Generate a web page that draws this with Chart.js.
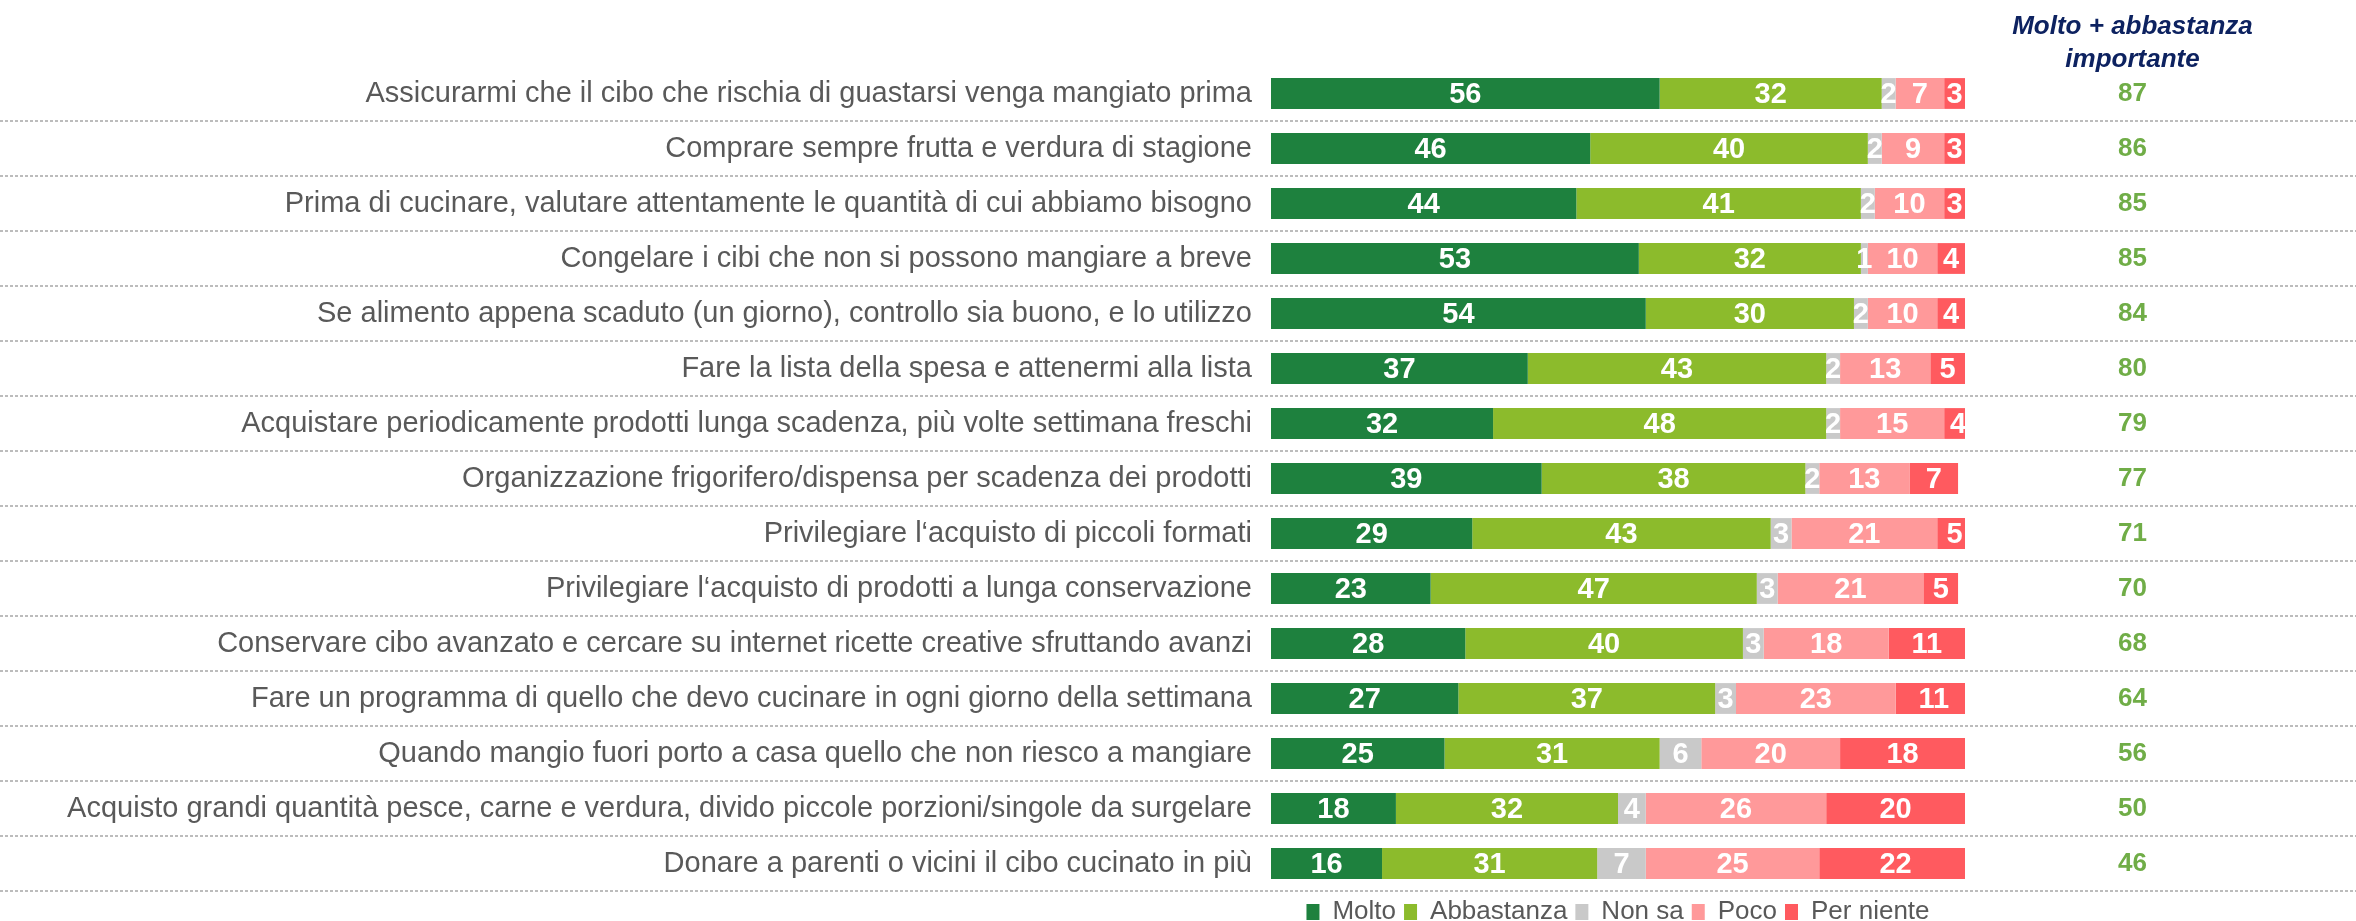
<!DOCTYPE html>
<html>
<head>
<meta charset="utf-8">
<script src="https://cdn.jsdelivr.net/npm/chart.js@4.4.1/dist/chart.umd.min.js"></script>
<style>
html, body { margin: 0; padding: 0; background: #fff; }
#wrap { width: 2356px; height: 921px; position: relative; }
</style>
</head>
<body>
<div id="wrap"><canvas id="foodChart"></canvas></div>
<script>
var categories = [
    "Assicurarmi che il cibo che rischia di guastarsi venga mangiato prima",
    "Comprare sempre frutta e verdura di stagione",
    "Prima di cucinare, valutare attentamente le quantità di cui abbiamo bisogno",
    "Congelare i cibi che non si possono mangiare a breve",
    "Se alimento appena scaduto (un giorno), controllo sia buono, e lo utilizzo",
    "Fare la lista della spesa e attenermi alla lista",
    "Acquistare periodicamente prodotti lunga scadenza, più volte settimana freschi",
    "Organizzazione frigorifero/dispensa per scadenza dei prodotti",
    "Privilegiare l‘acquisto di piccoli formati",
    "Privilegiare l‘acquisto di prodotti a lunga conservazione",
    "Conservare cibo avanzato e cercare su internet ricette creative sfruttando avanzi",
    "Fare un programma di quello che devo cucinare in ogni giorno della settimana",
    "Quando mangio fuori porto a casa quello che non riesco a mangiare",
    "Acquisto grandi quantità pesce, carne e verdura, divido piccole porzioni/singole da surgelare",
    "Donare a parenti o vicini il cibo cucinato in più"
];
var seriesNames = ["Molto", "Abbastanza", "Non sa", "Poco", "Per niente"];
var molto      = [56, 46, 44, 53, 54, 37, 32, 39, 29, 23, 28, 27, 25, 18, 16];
var abbastanza = [32, 40, 41, 32, 30, 43, 48, 38, 43, 47, 40, 37, 31, 32, 31];
var nonSa      = [2, 2, 2, 1, 2, 2, 2, 2, 3, 3, 3, 3, 6, 4, 7];
var poco       = [7, 9, 10, 10, 10, 13, 15, 13, 21, 21, 18, 23, 20, 26, 25];
var perNiente  = [3, 3, 3, 4, 4, 5, 4, 7, 5, 5, 11, 11, 18, 20, 22];
var totals     = [87, 86, 85, 85, 84, 80, 79, 77, 71, 70, 68, 64, 56, 50, 46];
var headerLines = ["Molto + abbastanza", "importante"];

var colors = ["#1e813e", "#8cbb2c", "#c9c9c9", "#ff999a", "#ff5a5f"];
var FONT = "'Liberation Sans', Arial, sans-serif";

// dotted row separators, full page width, placed between the rows of the y scale
var separatorPlugin = {
    id: 'separators',
    beforeDatasetsDraw: function (chart) {
        var y = chart.scales.y;
        var ctx = chart.ctx;
        var step = y.getPixelForValue(1) - y.getPixelForValue(0);
        ctx.save();
        ctx.strokeStyle = "#bcbcbc";
        ctx.lineWidth = 2;
        ctx.setLineDash([3, 2]);
        for (let i = 0; i < categories.length; i++) {
            let py = Math.round(y.getPixelForValue(i) + step / 2);
            ctx.beginPath();
            ctx.moveTo(0, py);
            ctx.lineTo(chart.width, py);
            ctx.stroke();
        }
        ctx.restore();
    }
};

var valueLabelPlugin = {
    id: 'valueLabels',
    afterDatasetsDraw: function (chart) {
        var ctx = chart.ctx;
        ctx.save();
        ctx.fillStyle = "#ffffff";
        ctx.font = "bold 29px " + FONT;
        ctx.textAlign = "center";
        ctx.textBaseline = "middle";
        chart.data.datasets.forEach(function (ds, i) {
            chart.getDatasetMeta(i).data.forEach(function (bar, j) {
                ctx.fillText(String(ds.data[j]), (bar.x + bar.base) / 2, bar.y + 1);
            });
        });
        ctx.restore();
    }
};

var headerPlugin = {
    id: 'header',
    afterDraw: function (chart) {
        var y2 = chart.scales.y2;
        var ctx = chart.ctx;
        ctx.save();
        ctx.font = "bold 26px " + FONT;
        var widest = Math.max.apply(null, totals.map(t => ctx.measureText(String(t)).width));
        var cx = y2.left + y2.options.grid.tickLength + y2.options.ticks.padding + widest / 2;
        ctx.font = "italic bold 26px " + FONT;
        ctx.fillStyle = "#0d2260";
        ctx.textAlign = "center";
        ctx.textBaseline = "alphabetic";
        var top = chart.chartArea.top;
        ctx.fillText(headerLines[0], cx, top - 32);
        ctx.fillText(headerLines[1], cx, top + 1);
        ctx.restore();
    }
};

var datasets = [molto, abbastanza, nonSa, poco, perNiente].map(function (values, i) {
    return {
        label: seriesNames[i],
        data: values,
        backgroundColor: colors[i],
        borderWidth: 0,
        categoryPercentage: 1,
        barPercentage: 0.56
    };
});

new Chart(document.getElementById("foodChart"), {
    type: 'bar',
    data: { labels: categories, datasets: datasets },
    plugins: [separatorPlugin, valueLabelPlugin, headerPlugin],
    options: {
        indexAxis: 'y',
        responsive: true,
        maintainAspectRatio: false,
        animation: false,
        layout: { padding: { top: 66, left: 0, right: 0, bottom: 0 } },
        scales: {
            x: {
                stacked: true,
                min: 0,
                max: 100,
                display: false
            },
            y: {
                stacked: true,
                grid: { display: false, drawTicks: true, tickLength: 19 },
                border: { display: false },
                ticks: {
                    autoSkip: false,
                    color: "#595959",
                    padding: 0,
                    font: { family: FONT, size: 29 }
                },
                afterFit: function (scale) { scale.width = 1271; }
            },
            y2: {
                type: 'category',
                axis: 'y',
                position: 'right',
                labels: totals.map(String),
                offset: true,
                grid: { display: false, drawTicks: true, tickLength: 150 },
                border: { display: false },
                ticks: {
                    autoSkip: false,
                    color: "#70ad47",
                    padding: 3,
                    crossAlign: 'center',
                    font: { family: FONT, size: 26, weight: 'bold' }
                },
                afterFit: function (scale) { scale.width = 391; }
            }
        },
        plugins: {
            tooltip: { enabled: false },
            legend: {
                position: 'bottom',
                fullSize: false,
                maxHeight: 30,
                labels: {
                    boxWidth: 13,
                    boxHeight: 16,
                    padding: 8,
                    color: "#595959",
                    font: { family: FONT, size: 26 }
                }
            }
        }
    }
});
</script>
</body>
</html>
